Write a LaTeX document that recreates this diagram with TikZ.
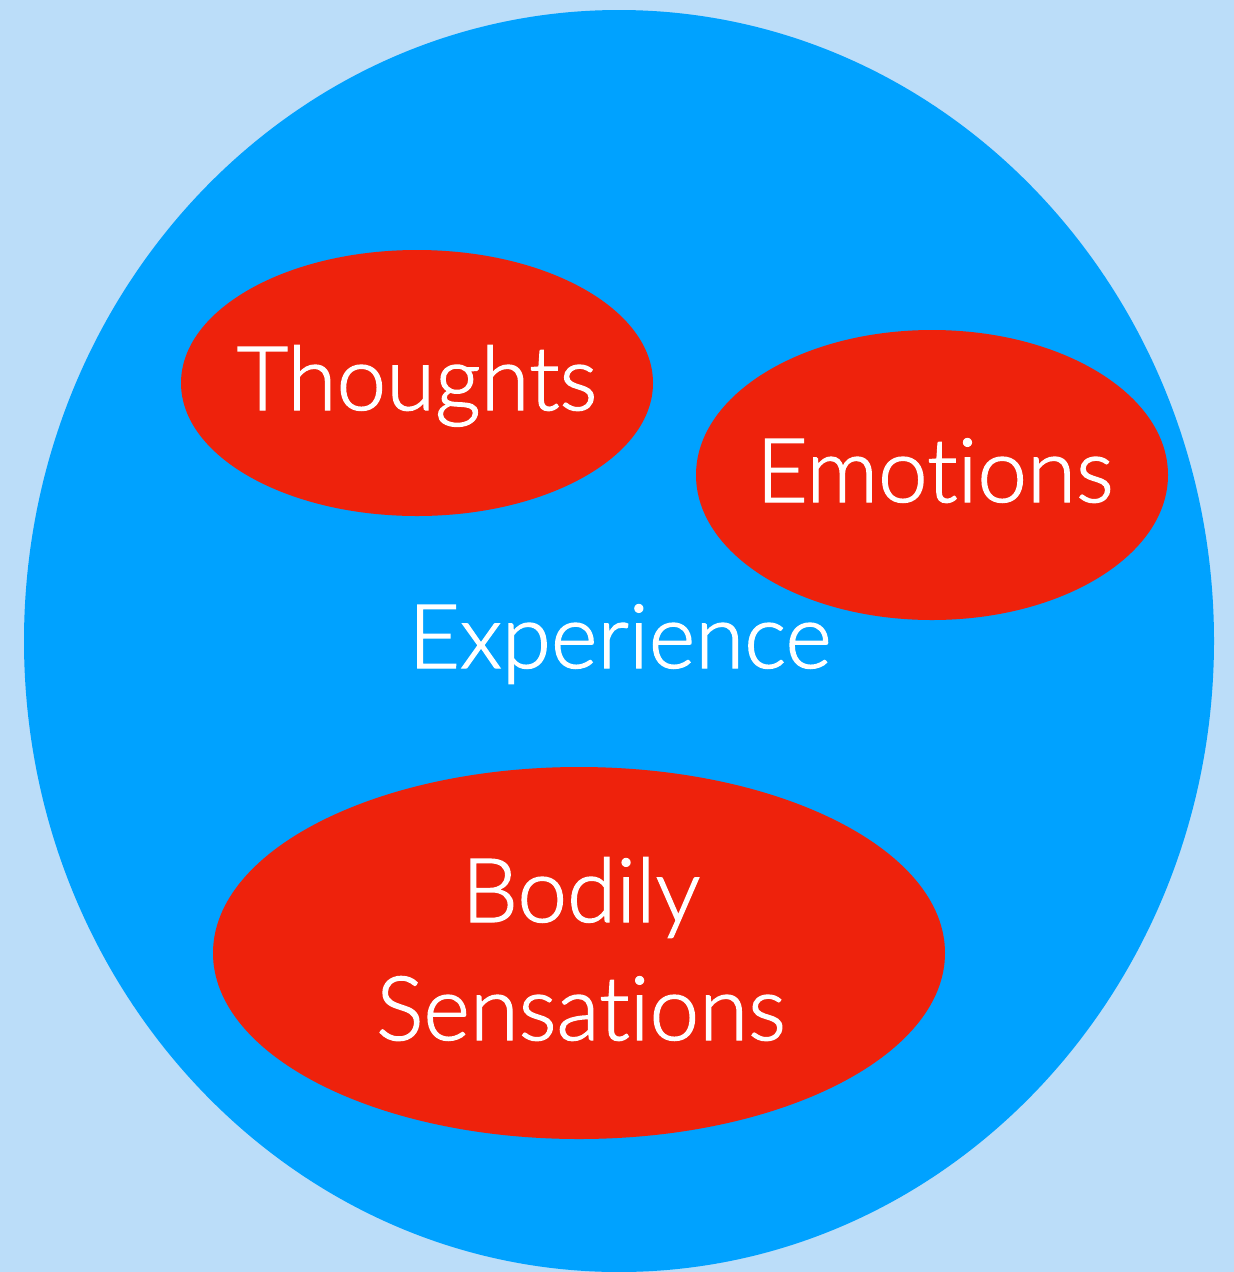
\documentclass[tikz,border=0pt]{standalone}
\usepackage{fontspec}
\setmainfont{Lato Light}[Ligatures=NoCommon,FakeBold=1.5]
\definecolor{bgblue}{HTML}{BBDDF9}
\definecolor{midblue}{HTML}{00A2FF}
\definecolor{redfill}{HTML}{EE220C}
\begin{document}
\begin{tikzpicture}[x=1pt,y=-1pt,
  blob/.style={fill=redfill,draw=none},
  lbl/.style={text=white,font=\fontsize{89}{118}\selectfont,anchor=base,inner sep=0pt,align=center}]
\fill[bgblue] (0,0) rectangle (1234,1272);
\useasboundingbox (0,0) rectangle (1234,1272);
\fill[midblue] (619,641) ellipse [x radius=595, y radius=631];
\fill[blob] (417,383) ellipse [x radius=236, y radius=133];
\fill[blob] (932,475) ellipse [x radius=236, y radius=145];
\fill[blob] (579,953) ellipse [x radius=366, y radius=186];
\node[lbl] (thoughts) at (417,410) {Thoughts};
\node[lbl] (emotions) at (935,502) {Emotions};
\node[lbl] (experience) at (620,668) {Experience};
\node[lbl] (bodily) at (581,1040) {Bodily\\Sensations};
\end{tikzpicture}
\end{document}
